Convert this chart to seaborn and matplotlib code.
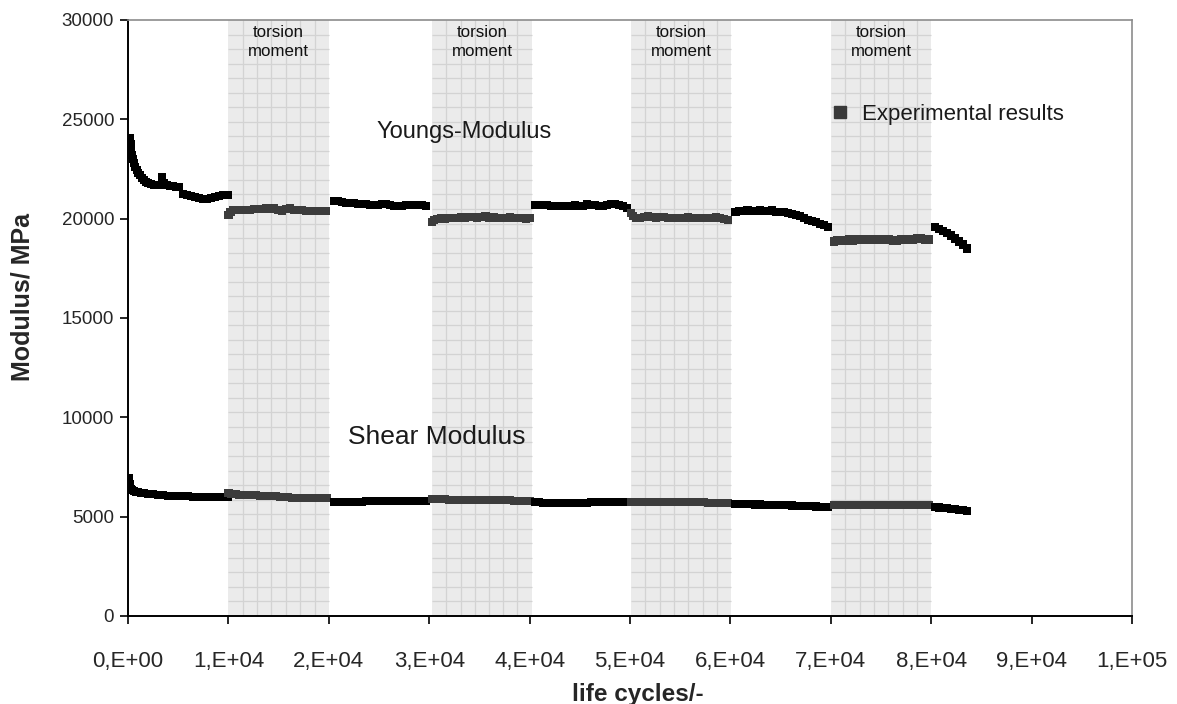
import numpy as np
import pandas as pd
import matplotlib
matplotlib.use("Agg")
import matplotlib.pyplot as plt
import seaborn as sns

# ---------------- data ----------------
# Young's modulus, phases alternate: tension (A), torsion (B), tension (C), ...
yx_A = [100, 200, 250, 300, 400, 500, 600, 700, 850, 1000, 1200, 1400, 1600, 1800, 2000, 2300, 2600, 2900,
        3200, 3400, 3600, 3900, 4200, 4500, 4800, 5100, 5500, 5900, 6300, 6700, 7100, 7500, 7900, 8300,
        8700, 9100, 9500, 9900]
yy_A = [23600, 24050, 23750, 23450, 23200, 23000, 22800, 22600, 22450, 22300, 22200, 22050, 21950, 21850,
        21800, 21750, 21700, 21700, 21700, 22100, 21800, 21700, 21650, 21650, 21600, 21600, 21250, 21200,
        21150, 21100, 21050, 21000, 21000, 21050, 21100, 21150, 21200, 21200]
yx_B = [10000, 10200, 10500, 10900, 11300, 11700, 12100, 12500, 12900, 13300, 13700, 14100, 14500, 14900,
        15300, 15700, 16100, 16500, 16900, 17300, 17700, 18100, 18500, 18900, 19300, 19700]
yy_B = [20200, 20350, 20450, 20450, 20450, 20450, 20450, 20500, 20500, 20500, 20550, 20500, 20550, 20450,
        20400, 20500, 20550, 20450, 20450, 20450, 20400, 20400, 20400, 20400, 20400, 20400]
yx_C = [20500, 20900, 21300, 21700, 22100, 22500, 22900, 23300, 23700, 24100, 24500, 24900, 25300, 25700,
        26100, 26500, 26900, 27300, 27700, 28100, 28500, 28900, 29300, 29700]
yy_C = [20900, 20900, 20850, 20800, 20800, 20800, 20750, 20750, 20750, 20700, 20700, 20700, 20750, 20750,
        20700, 20650, 20650, 20650, 20700, 20700, 20700, 20700, 20700, 20650]
yx_D = [30300, 30500, 30800, 31200, 31600, 32000, 32400, 32800, 33200, 33600, 34000, 34400, 34800, 35200,
        35600, 36000, 36400, 36800, 37200, 37600, 38000, 38400, 38800, 39200, 39600, 40000]
yy_D = [19850, 19950, 20000, 20050, 20000, 20050, 20050, 20050, 20100, 20050, 20100, 20100, 20050, 20100,
        20150, 20050, 20100, 20050, 20050, 20050, 20100, 20050, 20050, 20050, 20000, 20050]
yx_E = [40500, 40900, 41300, 41700, 42100, 42500, 42900, 43300, 43700, 44100, 44500, 44900, 45300, 45700,
        46100, 46500, 46900, 47300, 47700, 48100, 48500, 48900, 49300, 49700]
yy_E = [20700, 20700, 20700, 20700, 20650, 20650, 20650, 20650, 20650, 20650, 20700, 20650, 20650, 20750,
        20700, 20700, 20650, 20650, 20700, 20750, 20750, 20700, 20650, 20550]
yx_F = [50100, 50300, 50600, 51000, 51400, 51800, 52200, 52600, 53000, 53400, 53800, 54200, 54600, 55000,
        55400, 55800, 56200, 56600, 57000, 57400, 57800, 58200, 58600, 59000, 59400, 59800]
yy_F = [20300, 20150, 20050, 20050, 20100, 20150, 20100, 20050, 20100, 20100, 20050, 20050, 20050, 20050,
        20050, 20100, 20050, 20050, 20050, 20050, 20050, 20050, 20100, 20050, 20000, 19950]
yx_G = [60500, 60900, 61300, 61700, 62100, 62500, 62900, 63300, 63700, 64100, 64500, 64900, 65300, 65700,
        66100, 66500, 66900, 67300, 67700, 68100, 68500, 68900, 69300, 69700]
yy_G = [20350, 20400, 20400, 20450, 20400, 20400, 20450, 20400, 20400, 20450, 20350, 20350, 20350, 20300,
        20250, 20200, 20150, 20050, 19950, 19900, 19850, 19750, 19700, 19600]
yx_H = [70300, 70600, 71000, 71400, 71800, 72200, 72600, 73000, 73400, 73800, 74200, 74600, 75000, 75400,
        75800, 76200, 76600, 77000, 77400, 77800, 78200, 78600, 79000, 79400, 79800]
yy_H = [18850, 18900, 18900, 18900, 18950, 18900, 18950, 18950, 18950, 18950, 18950, 18950, 18950, 18950,
        18950, 18900, 18900, 18950, 18950, 18950, 18950, 19000, 19000, 18950, 18950]
yx_I = [80400, 80800, 81200, 81600, 82000, 82400, 82800, 83200, 83600]
yy_I = [19600, 19500, 19400, 19300, 19150, 19000, 18850, 18700, 18500]

# Shear modulus
sx_A = [50, 100, 150, 200, 300, 400, 600, 800, 1000, 1300, 1600, 2000, 2500, 3000, 3500, 4000, 4500, 5000,
        5500, 6000, 6500, 7000, 7500, 8000, 8500, 9000, 9500, 9900]
sy_A = [6950, 6800, 6650, 6500, 6400, 6350, 6300, 6250, 6220, 6200, 6180, 6150, 6120, 6100, 6080, 6060,
        6050, 6040, 6030, 6020, 6010, 6000, 5990, 5990, 5980, 5980, 5990, 6000]
sx_B = [10000, 10300, 10700, 11100, 11500, 11900, 12300, 12700, 13100, 13500, 13900, 14300, 14700, 15100,
        15500, 15900, 16300, 16700, 17100, 17500, 17900, 18300, 18700, 19100, 19500, 19800]
sy_B = [6200, 6150, 6120, 6100, 6100, 6080, 6080, 6070, 6060, 6060, 6050, 6050, 6050, 6000, 5980, 5970,
        5960, 5960, 5950, 5950, 5950, 5950, 5940, 5950, 5940, 5930]
sx_C = yx_C
sy_C = [5740, 5740, 5750, 5760, 5760, 5760, 5760, 5760, 5770, 5770, 5770, 5770, 5770, 5770, 5780, 5780,
        5780, 5780, 5780, 5780, 5790, 5790, 5790, 5790]
sx_D = yx_D
sy_D = [5880, 5880, 5870, 5870, 5870, 5860, 5860, 5860, 5850, 5850, 5850, 5850, 5840, 5840, 5840, 5840,
        5830, 5830, 5830, 5820, 5820, 5810, 5810, 5800, 5800, 5790]
sx_E = yx_E
sy_E = [5730, 5720, 5710, 5700, 5700, 5700, 5700, 5700, 5700, 5710, 5710, 5710, 5710, 5710, 5720, 5720,
        5720, 5720, 5720, 5730, 5730, 5730, 5730, 5730]
sx_F = yx_F
sy_F = [5750, 5750, 5750, 5740, 5740, 5740, 5740, 5740, 5740, 5740, 5730, 5730, 5730, 5730, 5730, 5730,
        5720, 5720, 5720, 5720, 5710, 5710, 5700, 5700, 5700, 5690]
sx_G = yx_G
sy_G = [5640, 5630, 5630, 5620, 5620, 5610, 5610, 5600, 5600, 5590, 5590, 5580, 5580, 5570, 5560, 5550,
        5550, 5540, 5530, 5520, 5510, 5500, 5490, 5480]
sx_H = yx_H
sy_H = [5580, 5590, 5590, 5590, 5590, 5590, 5580, 5590, 5590, 5580, 5580, 5580, 5580, 5580, 5580, 5580,
        5570, 5570, 5570, 5570, 5570, 5570, 5570, 5570, 5570]
sx_I = yx_I
sy_I = [5480, 5460, 5440, 5420, 5400, 5380, 5350, 5320, 5290]

torsion_bands = [(10000, 20000), (30300, 40200), (50100, 60100), (70000, 80000)]
x_ticks = [0, 10000, 20000, 30000, 40000, 50000, 60000, 70000, 80000, 90000, 100000]
x_tick_labels = ["0,E+00", "1,E+04", "2,E+04", "3,E+04", "4,E+04", "5,E+04",
                 "6,E+04", "7,E+04", "8,E+04", "9,E+04", "1,E+05"]
y_ticks = [0, 5000, 10000, 15000, 20000, 25000, 30000]

# ---------------- build table ----------------
segments = [
    ("Youngs", "tension", yx_A, yy_A), ("Youngs", "torsion", yx_B, yy_B),
    ("Youngs", "tension", yx_C, yy_C), ("Youngs", "torsion", yx_D, yy_D),
    ("Youngs", "tension", yx_E, yy_E), ("Youngs", "torsion", yx_F, yy_F),
    ("Youngs", "tension", yx_G, yy_G), ("Youngs", "torsion", yx_H, yy_H),
    ("Youngs", "tension", yx_I, yy_I),
    ("Shear", "tension", sx_A, sy_A), ("Shear", "torsion", sx_B, sy_B),
    ("Shear", "tension", sx_C, sy_C), ("Shear", "torsion", sx_D, sy_D),
    ("Shear", "tension", sx_E, sy_E), ("Shear", "torsion", sx_F, sy_F),
    ("Shear", "tension", sx_G, sy_G), ("Shear", "torsion", sx_H, sy_H),
    ("Shear", "tension", sx_I, sy_I),
]
rows = []
for kind, phase, xs, ys in segments:
    for xv, yv in zip(xs, ys):
        rows.append({"cycles": xv, "modulus": yv, "kind": kind, "phase": phase})
df = pd.DataFrame(rows)

# ---------------- style ----------------
sns.set_style("white")
plt.rcParams["font.family"] = ["Liberation Sans", "DejaVu Sans"]

fig = plt.figure(figsize=(11.77, 7.04), dpi=100)
ax = fig.add_axes([0.1088, 0.125, 0.8530, 0.8466])

ax.set_xlim(0, 100000)
ax.set_ylim(0, 30000)

# torsion bands with fine grid texture
grid_step_y = 30000 / 41
hl = np.arange(1, 41) * grid_step_y
for (a, b) in torsion_bands:
    ax.axvspan(a, b, color="#ebebeb", zorder=0, lw=0)
    ax.vlines([a + k * (b - a) / 7 for k in range(1, 7)], 0, 30000,
              color="#d3d3d3", lw=0.9, zorder=0.5)
    ax.hlines(hl, a, b, color="#d3d3d3", lw=0.9, zorder=0.5)
    ax.text((a + b) / 2, 28900, "torsion\nmoment", ha="center", va="center",
            fontsize=12.2, color="#111111", linespacing=1.3, zorder=3)

sns.scatterplot(data=df, x="cycles", y="modulus", hue="phase",
                palette={"tension": "#000000", "torsion": "#3c3c3c"},
                marker="s", s=34, linewidth=0, legend=False, ax=ax, zorder=2)

# legend
handle = plt.Line2D([], [], marker="s", color="#3a3a3a", linestyle="none", markersize=8)
leg = ax.legend([handle], ["Experimental results"], loc="center left",
                bbox_to_anchor=(0.700, 0.842), frameon=False, fontsize=16,
                handlelength=0.8, handletextpad=0.6, borderpad=0, borderaxespad=0)
for t in leg.get_texts():
    t.set_color("#1a1a1a")

ax.text(24700, 24358, "Youngs-Modulus", ha="left", va="center", fontsize=17, color="#1a1a1a")
ax.text(21900, 9009, "Shear Modulus", ha="left", va="center", fontsize=19, color="#1a1a1a")

ax.set_xticks(x_ticks)
ax.set_xticklabels(x_tick_labels)
ax.set_yticks(y_ticks)
ax.set_yticklabels([str(v) for v in y_ticks])
ax.tick_params(axis="x", which="both", direction="out", length=6, width=1.2,
               color="black", labelsize=16, pad=19, bottom=True)
ax.tick_params(axis="y", which="both", direction="out", length=6, width=1.2,
               color="black", labelsize=13.5, pad=4, left=True)

ax.set_xlabel("life cycles/-", fontsize=17.5, fontweight="bold")
ax.set_ylabel("Modulus/ MPa", fontsize=18, fontweight="bold")
ax.xaxis.set_label_coords(0.508, -0.1309)
ax.xaxis.label.set_verticalalignment("center")
ax.yaxis.set_label_coords(-0.1056, 0.535)
ax.yaxis.label.set_verticalalignment("center")

for side in ["left", "bottom"]:
    ax.spines[side].set_color("black")
    ax.spines[side].set_linewidth(1.4)
for side in ["top", "right"]:
    ax.spines[side].set_color("#8c8c8c")
    ax.spines[side].set_linewidth(1.2)
ax.grid(False)

fig.savefig("out.png", dpi=100, facecolor="white")
